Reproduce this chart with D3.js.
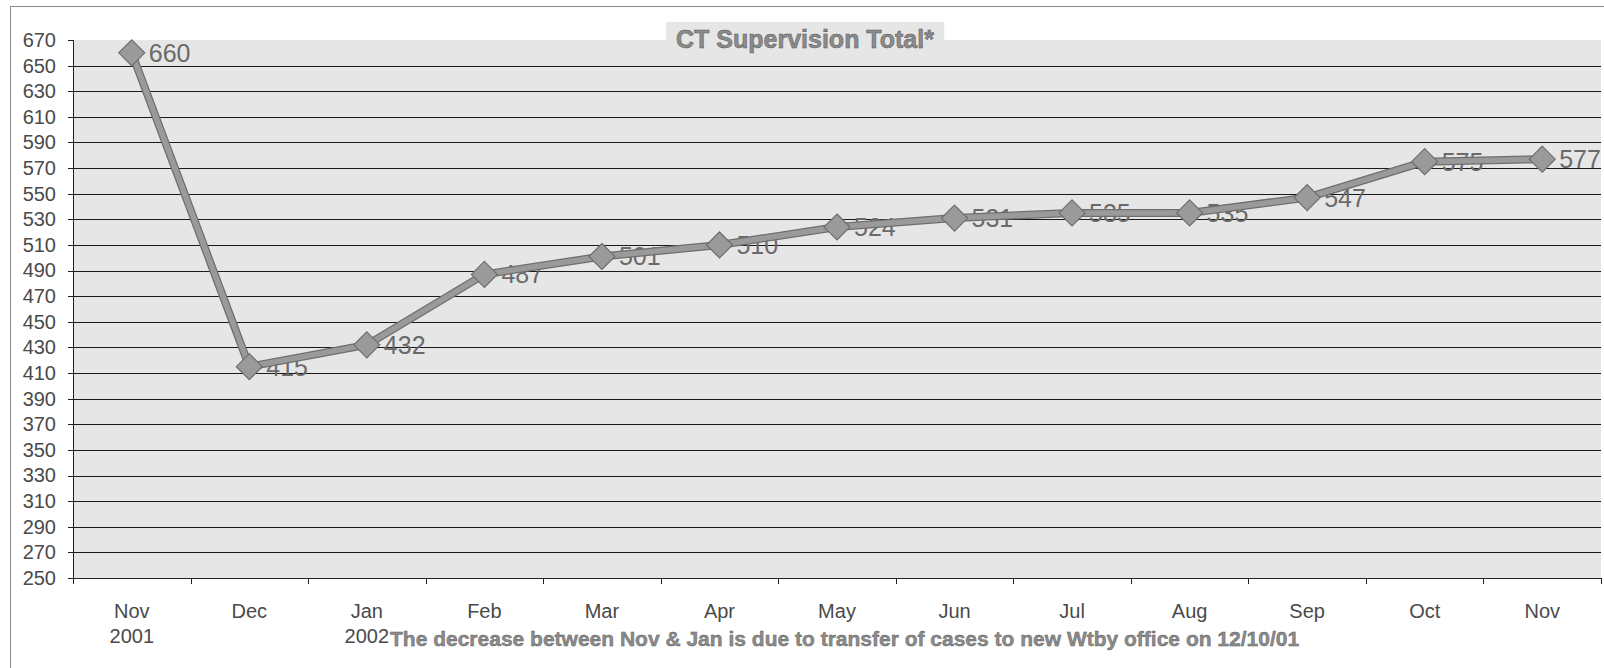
<!DOCTYPE html>
<html>
<head>
<meta charset="utf-8">
<title>CT Supervision Total</title>
<style>
body {
  margin: 0;
  background-color: white;
}

svg {
  display: block;
  font-family: "Liberation Sans", Arial, sans-serif;
}

.grid line {
  stroke: #1a1a1a;
  stroke-width: 1px;
  shape-rendering: crispEdges;
}

.axis path,
.axis line {
  fill: none;
  stroke: #222;
  shape-rendering: crispEdges;
}

.axis text {
  font-size: 20px;
  fill: #4a4a4a;
}
</style>
<script src="https://d3js.org/d3.v7.min.js"></script>
</head>
<body>

<svg width="1604" height="668"></svg>

<script>
  // data
  const categories = ['Nov 2001', 'Dec 2001', 'Jan 2002', 'Feb 2002', 'Mar 2002', 'Apr 2002', 'May 2002',
    'Jun 2002', 'Jul 2002', 'Aug 2002', 'Sep 2002', 'Oct 2002', 'Nov 2002'];
  const tickLabels = [['Nov', '2001'], ['Dec'], ['Jan', '2002'], ['Feb'], ['Mar'], ['Apr'], ['May'],
    ['Jun'], ['Jul'], ['Aug'], ['Sep'], ['Oct'], ['Nov']];
  const totals = [660, 415, 432, 487, 501, 510, 524, 531, 535, 535, 547, 575, 577];
  const yTicks = d3.range(250, 671, 20);

  const title = 'CT Supervision Total*';
  const note = 'The decrease between Nov & Jan is due to transfer of cases to new Wtby office on 12/10/01';

  const data = categories.map((c, i) => ({ cat: c, value: totals[i], label: tickLabels[i] }));

  function createChart(data) {
    const svg = d3.select('svg');
    const margin = { top: 40, right: 3, bottom: 90, left: 73 };
    const width = 1604 - margin.left - margin.right;
    const height = 668 - margin.top - margin.bottom;

    // outer frame (right and bottom edges run off the page, as in the scan)
    svg.append('rect')
      .attr('x', 10.5).attr('y', 6.5)
      .attr('width', 1620).attr('height', 680)
      .attr('fill', 'white')
      .attr('stroke', '#8a8a8a');

    const g = svg.append('g').attr('transform', `translate(${margin.left},${margin.top})`);

    const x = d3.scaleBand().domain(categories).range([0, width]);
    const y = d3.scaleLinear().domain([250, 670]).range([height, 0]);

    // plot area background
    g.append('rect')
      .attr('width', width)
      .attr('height', height)
      .attr('fill', '#e6e6e6');

    // gridlines
    g.append('g')
      .attr('class', 'grid')
      .selectAll('line')
      .data(yTicks.filter(t => t > 250 && t < 670))
      .enter().append('line')
      .attr('x1', 0).attr('x2', width)
      .attr('y1', d => Math.round(y(d))).attr('y2', d => Math.round(y(d)));

    // y axis
    g.append('g')
      .attr('class', 'axis')
      .call(d3.axisLeft(y).tickValues(yTicks).tickSize(5).tickPadding(12).tickFormat(d3.format('d')))
      .call(a => a.select('.domain').attr('d', `M-5,0.5H0.5V${height}`));

    // x axis: ticks sit between categories
    const xAxis = g.append('g')
      .attr('class', 'axis')
      .attr('transform', `translate(0,${height})`);

    xAxis.append('line')
      .attr('x1', 0).attr('x2', width)
      .attr('y1', 0).attr('y2', 0);

    xAxis.selectAll('.tick')
      .data(categories.concat(['end']))
      .enter().append('line')
      .attr('class', 'tick')
      .attr('x1', d => d === 'end' ? width : Math.round(x(d)) + 0.5)
      .attr('x2', d => d === 'end' ? width : Math.round(x(d)) + 0.5)
      .attr('y1', 0).attr('y2', 6);

    const lbl = xAxis.selectAll('.lbl')
      .data(data)
      .enter().append('text')
      .attr('class', 'lbl')
      .attr('text-anchor', 'middle')
      .attr('x', d => x(d.cat) + x.bandwidth() / 2)
      .attr('y', 40);

    lbl.selectAll('tspan')
      .data(d => d.label.map((t, i) => ({ t, i, cx: x(d.cat) + x.bandwidth() / 2 })))
      .enter().append('tspan')
      .attr('x', d => d.cx)
      .attr('dy', d => d.i === 0 ? 0 : 25)
      .text(d => d.t);

    // data labels (drawn under the line)
    g.append('g')
      .selectAll('text')
      .data(data)
      .enter().append('text')
      .attr('x', d => x(d.cat) + x.bandwidth() / 2 + 17)
      .attr('y', d => y(d.value))
      .attr('dy', '0.36em')
      .attr('font-size', 25)
      .attr('fill', '#6a6a6a')
      .text(d => d.value);

    // line
    const lineGenerator = d3.line()
      .x(d => x(d.cat) + x.bandwidth() / 2)
      .y(d => y(d.value));

    g.append('path')
      .datum(data)
      .attr('d', lineGenerator)
      .attr('fill', 'none')
      .attr('stroke', '#6e6e6e')
      .attr('stroke-width', 8)
      .attr('stroke-linejoin', 'round');

    g.append('path')
      .datum(data)
      .attr('d', lineGenerator)
      .attr('fill', 'none')
      .attr('stroke', '#9a9a9a')
      .attr('stroke-width', 5.5)
      .attr('stroke-linejoin', 'round');

    // diamond markers
    g.append('g')
      .selectAll('path')
      .data(data)
      .enter().append('path')
      .attr('transform', d => `translate(${x(d.cat) + x.bandwidth() / 2},${y(d.value)})`)
      .attr('d', 'M0,-13L13,0L0,13L-13,0Z')
      .attr('fill', '#9a9a9a')
      .attr('stroke', '#6e6e6e')
      .attr('stroke-width', 1.2);

    // title with its shaded box
    const tg = svg.append('g');
    const box = tg.append('rect').attr('fill', '#e6e6e6');
    const t = tg.append('text')
      .attr('x', 805)
      .attr('y', 48)
      .attr('text-anchor', 'middle')
      .attr('font-size', 25)
      .attr('font-weight', 'bold')
      .attr('fill', '#8c8c8c')
      .attr('stroke', '#555')
      .attr('stroke-width', 0.5)
      .text(title);

    const bb = t.node().getBBox();
    box.attr('x', bb.x - 10)
      .attr('y', 22)
      .attr('width', bb.width + 20)
      .attr('height', 19);

    // footnote
    svg.append('text')
      .attr('x', 390)
      .attr('y', 646)
      .attr('font-size', 21)
      .attr('font-weight', 'bold')
      .attr('fill', '#8c8c8c')
      .attr('stroke', '#555')
      .attr('stroke-width', 0.4)
      .text(note);
  }

  createChart(data);
</script>

</body>
</html>
